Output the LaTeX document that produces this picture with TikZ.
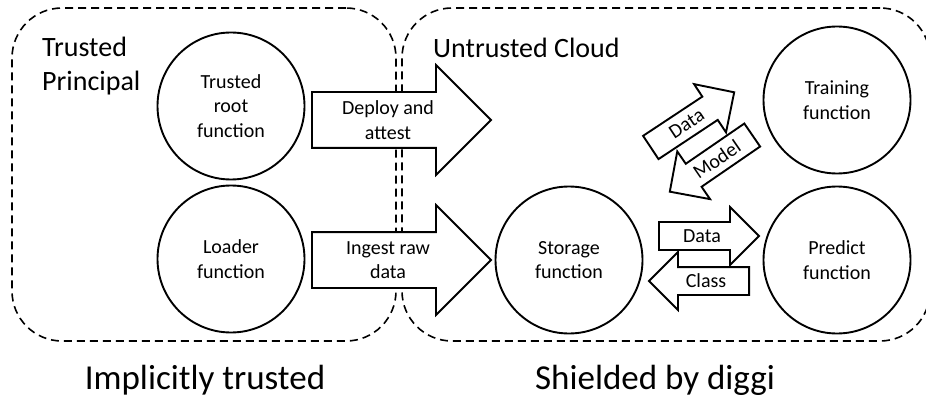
\documentclass[tikz,border=0pt]{standalone}
\usepackage{fontspec}
\setmainfont{Carlito}
\usetikzlibrary{shapes.arrows,calc}
\begin{document}
\begin{tikzpicture}[x=1pt,y=-1pt,
  region/.style={draw, dash pattern=on 8pt off 5pt, line width=1.6pt, rounded corners=50pt, inner sep=0pt},
  func/.style={circle, draw, fill=white, line width=1.9pt, minimum size=147pt, inner sep=0pt, align=center, font=\fontsize{20}{24.4}\selectfont},
  bigarrow/.style={single arrow, draw, fill=white, line width=1.9pt, minimum height=179pt, minimum width=108pt, inner ysep=27pt, inner xsep=0pt, single arrow head extend=27pt, anchor=tail},
  smallarrow/.style={single arrow, draw, fill=white, line width=1.9pt, minimum height=100pt, minimum width=56pt, inner ysep=13pt, inner xsep=0pt, single arrow head extend=15pt, anchor=tail},
  alabel/.style={align=center, inner sep=0pt, font=\fontsize{20}{24.4}\selectfont},
  rlabel/.style={align=left, inner sep=0pt, font=\fontsize{28}{34}\selectfont},
  blabel/.style={inner sep=0pt, font=\fontsize{35}{42}\selectfont}
]
\clip (0,0) rectangle (926,414);
% regions
\node[region, minimum width=384pt, minimum height=333pt] (trustedreg) at (204,174.5) {};
\node[region, minimum width=528pt, minimum height=333pt] (cloudreg) at (666,174.5) {};
\node[rlabel, anchor=base west] (tp) at (42,91) {Trusted\\Principal};
\node[rlabel, anchor=base west] (uc) at (433,58) {Untrusted Cloud};
% functions
\node[func] (root) at (231,106) {Trusted\\root\\function};
\node[func] (loader) at (231,259) {Loader\\function};
\node[func] (storage) at (569,260) {Storage\\function};
\node[func] (training) at (837,100) {Training\\function};
\node[func] (predict) at (837,260) {Predict\\function};
% block arrows
\node[bigarrow] (deploy) at (311,120) {};
\node[alabel] (deployl) at ($(deploy.tail)!0.425!(deploy.tip)$) {Deploy and\\attest};
\node[bigarrow] (ingest) at (311,260) {};
\node[alabel] (ingestl) at ($(ingest.tail)!0.425!(ingest.tip)$) {Ingest raw\\data};
\node[smallarrow, rotate=33.5] (tdata) at (650,148) {};
\node[alabel, rotate=33.5] (tdatal) at ($(tdata.tail)!0.43!(tdata.tip)$) {Data};
\node[smallarrow, rotate=214.5] (model) at (753,134.5) {};
\node[alabel, rotate=34.5] (modell) at ($(model.tail)!0.43!(model.tip)$) {Model};
\node[smallarrow] (pdata) at (658,236) {};
\node[alabel] (pdatal) at ($(pdata.tail)!0.43!(pdata.tip)$) {Data};
\node[smallarrow, rotate=180] (pclass) at (750,281) {};
\node[alabel] (pclassl) at ($(pclass.tail)!0.43!(pclass.tip)$) {Class};
% bottom labels
\node[blabel] (impl) at (205,380) {Implicitly trusted};
\node[blabel] (shield) at (655,380) {Shielded by diggi};
\end{tikzpicture}
\end{document}
